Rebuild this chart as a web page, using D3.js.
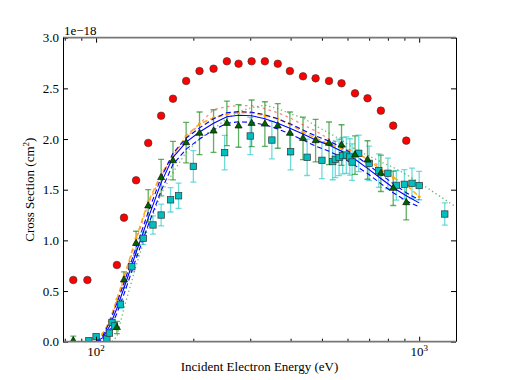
<!DOCTYPE html>
<html><head><meta charset="utf-8">
<script src="https://cdn.jsdelivr.net/npm/d3@7"></script>
<style>
body{margin:0;background:#fff}
svg{display:block}
text{font-family:"Liberation Serif","Times New Roman",serif;fill:#000}
</style>
</head><body>
<svg id="chart" width="507" height="380"></svg>
<script>
// ---- data (cross sections in units of 1e-18 cm^2) ----
const redE   = [85, 94, 116, 122, 133, 145, 159, 173, 190, 209, 231, 254, 276, 303, 333, 365, 398, 437, 478, 526, 575, 633, 692, 761, 831, 912];
const redV   = [0.609,0.609,0.757,1.224,1.593,1.961,2.230,2.398,2.573,2.671,2.694,2.767,2.743,2.767,2.767,2.743,2.671,2.619,2.599,2.573,2.550,2.451,2.402,2.280,2.132,1.984];

const triE   = [85, 116, 122, 133, 145, 159, 173, 190, 209, 231, 254, 276, 303, 333, 365, 398, 437, 478, 526, 575, 633, 692, 761, 831, 912];
const triV   = [0.01,0.14,0.61,0.97,1.34,1.62,1.786,1.964,2.057,2.079,2.155,2.129,2.155,2.148,2.129,2.057,2.007,1.984,1.958,1.941,1.842,1.793,1.662,1.514,1.372];
const triErr = [0.045,0.06,0.08,0.12,0.16,0.18,0.19,0.20,0.21,0.21,0.22,0.21,0.23,0.22,0.22,0.21,0.21,0.21,0.21,0.20,0.19,0.19,0.18,0.17,0.17];

const sqE    = [95, 100, 108, 110, 112, 114, 119, 129, 140, 150, 159, 170, 180, 200, 250, 300, 350, 400, 450, 500, 540, 550, 565, 580, 595, 610, 620, 650, 700, 750, 800, 850, 900, 950, 1000, 1200];
const sqV    = [0.01,0.05,0.027,0.085,0.19,0.155,0.37,0.74,1.02,1.152,1.25,1.40,1.44,1.73,1.866,2.03,1.99,1.875,1.82,1.79,1.778,1.80,1.818,1.836,1.842,1.823,1.773,1.859,1.76,1.688,1.662,1.543,1.553,1.563,1.541,1.26];
const sqErr  = [0.02,0.02,0.02,0.02,0.03,0.03,0.04,0.05,0.06,0.09,0.107,0.12,0.125,0.155,0.17,0.183,0.185,0.18,0.18,0.18,0.18,0.18,0.18,0.18,0.18,0.18,0.18,0.18,0.17,0.165,0.15,0.145,0.145,0.15,0.14,0.11];

const lineE     = [100, 105, 110, 116, 122, 133, 145, 159, 173, 190, 209, 231, 254, 276, 303, 333, 365, 398, 437, 478, 526, 575, 633, 692, 761, 831, 912, 1000];
const blueMid   = [0.0,0.04,0.15,0.33,0.53,0.88,1.22,1.57,1.82,1.97,2.07,2.155,2.22,2.235,2.23,2.20,2.155,2.106,2.05,1.99,1.94,1.88,1.80,1.71,1.61,1.52,1.44,1.37];
const blueHigh  = [0.0,0.06,0.19,0.38,0.58,0.93,1.28,1.62,1.86,2.01,2.11,2.20,2.26,2.27,2.265,2.24,2.20,2.15,2.09,2.03,1.98,1.92,1.84,1.75,1.65,1.56,1.47,1.40];
const blueLow   = [0.0,0.02,0.11,0.28,0.47,0.82,1.15,1.49,1.75,1.90,2.00,2.09,2.155,2.17,2.165,2.14,2.10,2.05,1.99,1.93,1.88,1.82,1.74,1.66,1.56,1.47,1.39,1.33];
const orangeV   = [0.0,0.08,0.20,0.42,0.64,1.02,1.38,1.65,1.84,2.03,2.15,2.21,2.245,2.26,2.26,2.23,2.20,2.148,2.07,2.01,1.95,1.91,1.87,1.80,1.70,1.62,1.55,1.43];

const redLineE  = [105, 110, 116, 122, 133, 145, 159, 173, 190, 209, 231, 254, 276, 303, 333, 365, 398, 437, 478, 526, 575, 633, 692, 761];
const redLineV  = [0.05,0.18,0.40,0.62,1.00,1.36,1.63,1.84,2.01,2.15,2.29,2.32,2.33,2.33,2.30,2.26,2.21,2.14,2.08,2.00,1.95,1.86,1.80,1.73];

const grnLineE  = [112, 116, 122, 133, 145, 159, 173, 190, 209, 231, 254, 276, 303, 333, 365, 398, 437, 478, 526, 575, 633, 692, 761, 831, 912, 1000, 1300];
const grnLineV  = [0.0,0.05,0.33,0.75,1.13,1.46,1.67,1.87,2.00,2.10,2.20,2.27,2.31,2.335,2.30,2.25,2.21,2.13,2.06,1.99,1.90,1.84,1.775,1.72,1.65,1.57,1.33];

const yTicks     = [0.0,0.5,1.0,1.5,2.0,2.5,3.0];
const xMajor     = [100, 1000];
const xMajorExp  = ["2", "3"];
const xMinor     = [80, 90, 200, 300, 400, 500, 600, 700, 800, 900];

// ---- layout ----
const L = 63, R = 456, T = 37.7, B = 341.7;
const svg = d3.select("#chart");
const x = d3.scaleLog().domain([79, 1300]).range([L, R]);
const y = d3.scaleLinear().domain([0, 3]).range([B, T]);

svg.append("defs").append("clipPath").attr("id","clip")
  .append("rect").attr("x",L).attr("y",T).attr("width",R-L).attr("height",B-T);

const plot = svg.append("g").attr("clip-path","url(#clip)");
const zip = (a,b) => a.map((v,i)=>[v,b[i]]);
const line = d3.line().x(d=>x(d[0])).y(d=>y(d[1]));

// error bars
function errBars(E,V,Er,color,op){
  const g = plot.append("g").attr("stroke",color).attr("stroke-opacity",op).attr("stroke-width",1.3).attr("fill","none");
  E.forEach((e,i)=>{
    const cx = x(e), y1 = y(V[i]+Er[i]), y2 = y(V[i]-Er[i]);
    g.append("line").attr("x1",cx).attr("x2",cx).attr("y1",y1).attr("y2",y2);
    g.append("line").attr("x1",cx-3).attr("x2",cx+3).attr("y1",y1).attr("y2",y1);
    g.append("line").attr("x1",cx-3).attr("x2",cx+3).attr("y1",y2).attr("y2",y2);
  });
}
errBars(sqE, sqV, sqErr, "#33cccc", 0.7);
errBars(triE, triV, triErr, "#1f8f1f", 0.7);

// model lines
plot.append("path").datum(zip(grnLineE,grnLineV)).attr("d",line)
  .attr("fill","none").attr("stroke","#2a9d2a").attr("stroke-opacity",0.7).attr("stroke-width",1.3).attr("stroke-dasharray","1.3,2.8");
plot.append("path").datum(zip(redLineE,redLineV)).attr("d",line)
  .attr("fill","none").attr("stroke","#ff2020").attr("stroke-opacity",0.55).attr("stroke-width",1.3).attr("stroke-dasharray","2.5,3.5");
plot.append("path").datum(zip(lineE,orangeV)).attr("d",line)
  .attr("fill","none").attr("stroke","#ffa500").attr("stroke-opacity",0.9).attr("stroke-width",1.6).attr("stroke-dasharray","5,3");
plot.append("g").selectAll("circle").data(zip(lineE,orangeV).filter(d=>d[1]>0)).join("circle")
  .attr("cx",d=>x(d[0])).attr("cy",d=>y(d[1])).attr("r",1.5).attr("fill","#ffa500");
plot.append("path").datum(zip(lineE,blueHigh)).attr("d",line)
  .attr("fill","none").attr("stroke","#0000ff").attr("stroke-width",1.1).attr("stroke-dasharray","5,3");
plot.append("path").datum(zip(lineE,blueLow)).attr("d",line)
  .attr("fill","none").attr("stroke","#0000ff").attr("stroke-width",1.1).attr("stroke-dasharray","5,3");
plot.append("path").datum(zip(lineE,blueMid)).attr("d",line)
  .attr("fill","none").attr("stroke","#0000ff").attr("stroke-width",1.1);

// markers
plot.append("g").selectAll("circle").data(zip(redE,redV)).join("circle")
  .attr("cx",d=>x(d[0])).attr("cy",d=>y(d[1])).attr("r",3.8)
  .attr("fill","#ff0000").attr("stroke","#333").attr("stroke-width",0.6);
plot.append("g").selectAll("rect").data(zip(sqE,sqV)).join("rect")
  .attr("x",d=>x(d[0])-3.2).attr("y",d=>y(d[1])-3.2).attr("width",6.4).attr("height",6.4)
  .attr("fill","#00bfbf").attr("stroke","#333").attr("stroke-width",0.7);
const tri = d3.symbol().type(d3.symbolTriangle).size(22);
plot.append("g").selectAll("path").data(zip(triE,triV)).join("path")
  .attr("d",tri).attr("transform",d=>`translate(${x(d[0])},${y(d[1])})`)
  .attr("fill","#006400").attr("stroke","#000").attr("stroke-width",0.6);

// axes (ticks inward, on all sides)
const fmt = d3.format(".1f");
const axL = svg.append("g").attr("transform",`translate(${L},0)`)
  .call(d3.axisLeft(y).tickValues(yTicks).tickSize(-5).tickPadding(4).tickFormat(fmt));
const axR = svg.append("g").attr("transform",`translate(${R},0)`)
  .call(d3.axisRight(y).tickValues(yTicks).tickSize(-5).tickFormat(""));
const axB = svg.append("g").attr("transform",`translate(0,${B})`)
  .call(d3.axisBottom(x).tickValues(xMajor).tickSize(-5).tickFormat(""));
const axBm = svg.append("g").attr("transform",`translate(0,${B})`)
  .call(d3.axisBottom(x).tickValues(xMinor).tickSize(-3).tickFormat(""));
const axT = svg.append("g").attr("transform",`translate(0,${T})`)
  .call(d3.axisTop(x).tickValues(xMajor).tickSize(-5).tickFormat(""));
const axTm = svg.append("g").attr("transform",`translate(0,${T})`)
  .call(d3.axisTop(x).tickValues(xMinor).tickSize(-3).tickFormat(""));
[axL,axR,axB,axBm,axT,axTm].forEach(a=>{
  a.select(".domain").remove();
  a.selectAll("line").attr("stroke","#000").attr("stroke-width",1);
  a.selectAll("text").attr("font-family","Liberation Serif").attr("font-size",13).attr("fill","#000");
});

// x major labels 10^n
xMajor.forEach((v,i)=>{
  const t = svg.append("text").attr("x",x(v)).attr("y",356).attr("text-anchor","middle").attr("font-size",13);
  t.append("tspan").text("10");
  t.append("tspan").attr("dy",-5).attr("font-size",9).text(xMajorExp[i]);
});

// spines
svg.append("line").attr("x1",L).attr("x2",R).attr("y1",T).attr("y2",T).attr("stroke","#777").attr("stroke-width",1.8);
svg.append("line").attr("x1",L).attr("x2",R).attr("y1",B).attr("y2",B).attr("stroke","#777").attr("stroke-width",1.8);
svg.append("line").attr("x1",L+0.5).attr("x2",L+0.5).attr("y1",T).attr("y2",B).attr("stroke","#000").attr("stroke-width",1);
svg.append("line").attr("x1",R+0.5).attr("x2",R+0.5).attr("y1",T).attr("y2",B).attr("stroke","#000").attr("stroke-width",1);

// labels
svg.append("text").attr("x",64).attr("y",35).attr("font-size",13).text("1e\u221218");
svg.append("text").attr("x",(L+R)/2).attr("y",371).attr("text-anchor","middle").attr("font-size",13)
  .text("Incident Electron Energy (eV)");
const yl = svg.append("text").attr("transform",`translate(34,${(T+B)/2}) rotate(-90)`)
  .attr("text-anchor","middle").attr("font-size",13);
yl.append("tspan").text("Cross Section (cm");
yl.append("tspan").attr("dy",-5).attr("font-size",9).text("2");
yl.append("tspan").attr("dy",5).text(")");
</script>
</body></html>
